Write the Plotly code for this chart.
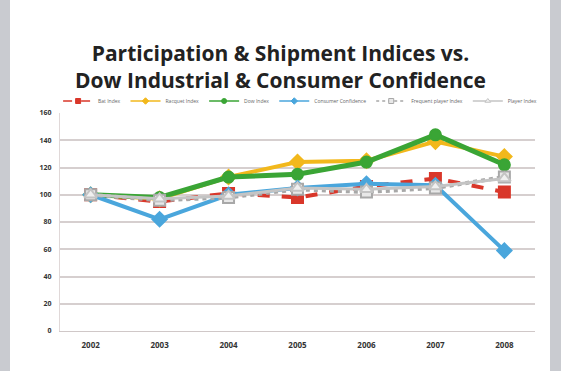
import plotly.graph_objects as go

years = ["2002", "2003", "2004", "2005", "2006", "2007", "2008"]
bat_index = [100, 95, 101, 98, 106, 112, 102]
racquet_index = [100, 97, 113, 124, 125, 139, 128]
dow_index = [100, 98, 113, 115, 124, 144, 122]
consumer_conf = [100, 82, 100, 105, 108, 107, 59]
freq_player_index = [100, 96, 98, 104, 102, 105, 113]
player_index = [100, 97, 99, 105, 104, 106, 112]
y_ticks = [0, 20, 40, 60, 80, 100, 120, 140, 160]

series = [
    ("Bat Index", bat_index, "#d9372a", "dash", "square", 4, "#d9372a"),
    ("Racquet Index", racquet_index, "#f2b81c", "solid", "diamond", 4, "#f2b81c"),
    ("Dow Index", dow_index, "#3aa535", "solid", "circle", 5, "#3aa535"),
    ("Consumer Confidence", consumer_conf, "#4aa6dc", "solid", "diamond", 4, "#4aa6dc"),
    ("Frequent player Index", freq_player_index, "#a8a8a8", "dot", "square", 4, "#e8e8e8"),
    ("Player Index", player_index, "#c4c4c4", "solid", "triangle-up", 3, "#f0f0f0"),
]

L, R, T, B = 60, 26, 113, 40
W, H = 561, 371
pw = W - L - R

fig = go.Figure()
for name, vals, color, dash, sym, w, fill in series:
    fig.add_trace(go.Scatter(
        x=years, y=vals, name=name, mode="lines+markers", showlegend=False,
        line=dict(color=color, width=w, dash=dash),
        marker=dict(symbol=sym, size=11, color=fill, line=dict(color=color, width=2)),
    ))
# small legend keys
for name, vals, color, dash, sym, w, fill in series:
    fig.add_trace(go.Scatter(
        x=[None], y=[None], name=name, mode="lines+markers", showlegend=True,
        line=dict(color=color, width=1.5, dash=dash),
        marker=dict(symbol=sym, size=5, color=fill, line=dict(color=color, width=1)),
    ))

fig.add_shape(type="rect", xref="paper", yref="paper",
              x0=(10 - L) / pw, x1=(550 - L) / pw, y0=-0.3, y1=1.6,
              fillcolor="white", line=dict(width=0), layer="below")

fig.update_layout(
    width=W, height=H,
    paper_bgcolor="#c9cbd0", plot_bgcolor="white",
    margin=dict(l=L, r=R, t=T, b=B),
    title=dict(text="<b>Participation & Shipment Indices vs.<br>Dow Industrial & Consumer Confidence</b>",
               x=0.5, xanchor="center", y=1 - 61 / H, yanchor="middle",
               font=dict(family="Open Sans", size=21, color="#222222")),
    legend=dict(orientation="h", x=-0.004, xanchor="left", y=1.055, yanchor="middle",
                font=dict(family="Open Sans", size=5, color="#666666"),
                itemwidth=30, bgcolor="rgba(0,0,0,0)"),
    showlegend=True,
    font=dict(family="Open Sans"),
)
fig.update_xaxes(type="category", showgrid=False, showline=True, linecolor="#d0c8c8",
                 ticks="", tickfont=dict(size=8, color="#333333", family="Open Sans", weight="bold"),
                 ticklabelstandoff=6)
fig.update_yaxes(range=[0, 160], tickvals=y_ticks, showgrid=True, gridcolor="#d6cfcf",
                 gridwidth=1.5, zeroline=False, showline=True, linecolor="#e0d8d8",
                 tickfont=dict(size=7, color="#333333", family="Open Sans", weight="bold"),
                 ticklabelstandoff=6)

fig.write_html("out.html")
